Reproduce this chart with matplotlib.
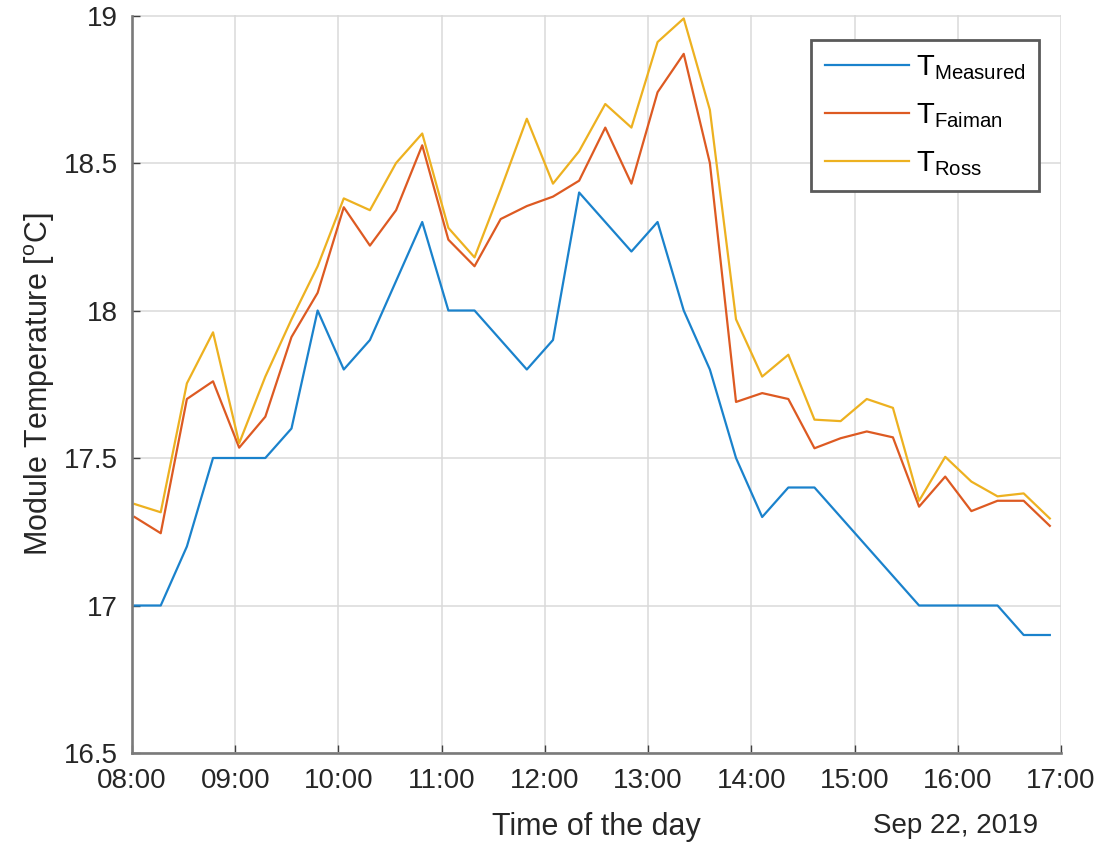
import pandas as pd
import matplotlib
matplotlib.use("Agg")
import matplotlib.pyplot as plt
import matplotlib.dates as mdates

plt.rcParams['font.family'] = ['Liberation Sans', 'DejaVu Sans']
plt.rcParams['mathtext.fontset'] = 'custom'
plt.rcParams['mathtext.rm'] = 'Liberation Sans'
plt.rcParams['mathtext.it'] = 'Liberation Sans:italic'

# sampling times (roughly every 15 min on Sep 22, 2019)
times = pd.date_range("2019-09-22 08:01:30", periods=36, freq="912s")

t_measured = [17.0, 17.0, 17.2, 17.5, 17.5, 17.5, 17.6, 18.0, 17.8, 17.9,
              18.1, 18.3, 18.0, 18.0, 17.9, 17.8, 17.9, 18.4, 18.3, 18.2,
              18.3, 18.0, 17.8, 17.5, 17.3, 17.4, 17.4, 17.3, 17.2, 17.1,
              17.0, 17.0, 17.0, 17.0, 16.9, 16.9]
t_faiman = [17.30, 17.245, 17.70, 17.76, 17.535, 17.64, 17.91, 18.06, 18.35, 18.22,
            18.34, 18.56, 18.24, 18.15, 18.31, 18.354, 18.386, 18.44, 18.62, 18.43,
            18.74, 18.87, 18.50, 17.69, 17.72, 17.70, 17.533, 17.567, 17.59, 17.57,
            17.335, 17.437, 17.32, 17.355, 17.355, 17.27]
t_ross = [17.344, 17.316, 17.753, 17.926, 17.55, 17.776, 17.97, 18.15, 18.38, 18.34,
          18.50, 18.60, 18.28, 18.18, 18.41, 18.65, 18.43, 18.54, 18.70, 18.62,
          18.91, 18.99, 18.68, 17.97, 17.776, 17.85, 17.63, 17.625, 17.70, 17.67,
          17.355, 17.504, 17.42, 17.37, 17.38, 17.295]

yticks = [16.5, 17, 17.5, 18, 18.5, 19]
ytick_labels = ['16.5', '17', '17.5', '18', '18.5', '19']

fig = plt.figure(figsize=(11.01, 8.46), dpi=100)
ax = fig.add_axes([132 / 1101, 1 - 753 / 846, 929 / 1101, 737.5 / 846])

ax.plot(times, t_measured, color='#1a82cc', lw=1.6, label=r'$\mathrm{T}_{\mathrm{Measured}}$')
ax.plot(times, t_faiman, color='#DD5a22', lw=1.6, label=r'$\mathrm{T}_{\mathrm{Faiman}}$')
ax.plot(times, t_ross, color='#EDB120', lw=1.6, label=r'$\mathrm{T}_{\mathrm{Ross}}$')

ax.set_xlim(pd.Timestamp("2019-09-22 08:00"), pd.Timestamp("2019-09-22 17:00"))
ax.set_ylim(16.5, 19)
ax.set_yticks(yticks)
ax.set_yticklabels(ytick_labels)
ax.xaxis.set_major_locator(mdates.HourLocator())
ax.xaxis.set_major_formatter(mdates.DateFormatter('%H:%M'))

ax.grid(True, color='#dadada', lw=1.1)
ax.set_axisbelow(True)
for s in ['top', 'right']:
    ax.spines[s].set_visible(False)
for s in ['left', 'bottom']:
    ax.spines[s].set_color('#7a7a7a')
    ax.spines[s].set_linewidth(1.9)
ax.tick_params(direction='in', length=6, width=1, colors='#404040',
               labelcolor='#262626', labelsize=20)
ax.tick_params(axis='x', pad=11)
ax.tick_params(axis='y', pad=10)

ax.set_ylabel(r'Module Temperature [$^{\mathrm{o}}$C]', fontsize=22, color='#262626',
              labelpad=5)
ax.set_xlabel('Time of the day', fontsize=22, color='#262626', labelpad=13)
fig.text(1038 / 1101, 1 - 826 / 846, 'Sep 22, 2019', ha='right', va='center',
         fontsize=20, color='#262626')

leg = ax.legend(loc='upper right', bbox_to_anchor=(1039 / 1101, 1 - 40 / 846),
                bbox_transform=fig.transFigure, fontsize=21, handlelength=2.9,
                handletextpad=0.25, fancybox=False, framealpha=1,
                edgecolor='#5a5a5a', borderaxespad=0, labelspacing=0.66,
                borderpad=0.45)
leg.get_frame().set_linewidth(2.0)

fig.savefig('out.png', dpi=100)
